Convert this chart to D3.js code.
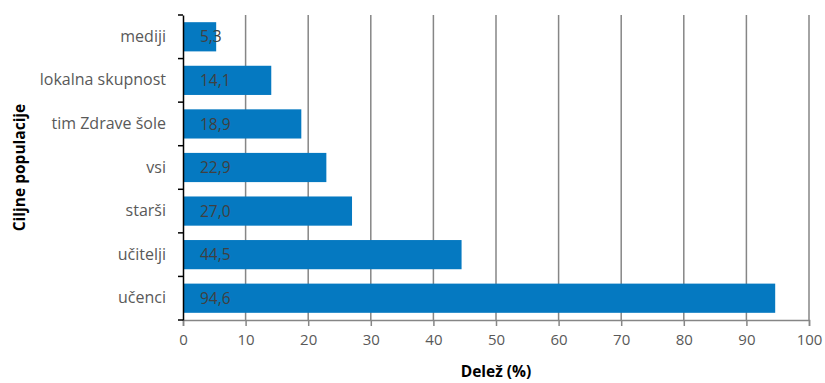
<!DOCTYPE html>
<html>
<head>
<meta charset="utf-8">
<script src="https://cdn.jsdelivr.net/npm/d3@7"></script>
<style>
  html, body { margin: 0; padding: 0; background: #fff; }
  svg { display: block; font-family: "Open Sans", "Noto Sans", sans-serif; }
</style>
</head>
<body>
<svg id="chart" width="825" height="383"></svg>
<script>
// Target populations and their shares (%)
const categories = ["mediji", "lokalna skupnost", "tim Zdrave šole", "vsi", "starši", "učitelji", "učenci"];
const values = [5.3, 14.1, 18.9, 22.9, 27.0, 44.5, 94.6];
const xTicks = [0, 10, 20, 30, 40, 50, 60, 70, 80, 90, 100];
const xTitle = "Delež (%)";
const yTitle = "Ciljne populacije";

const svg = d3.select("#chart");
const margin = { left: 183, right: 16, top: 15, bottom: 63 };
const W = 825, H = 383;
const x0 = margin.left, x1 = W - margin.right;
const y0 = margin.top, y1 = H - margin.bottom;

const x = d3.scaleLinear().domain([0, 100]).range([x0, x1]);
const y = d3.scaleBand().domain(categories).range([y0, y1]).paddingInner(0.33).paddingOuter(0.165);
const yEdges = d3.scaleLinear().domain([0, categories.length]).range([y0, y1]);

const fmt = v => d3.format(".1f")(v).replace(".", ",");

// vertical gridlines
svg.append("g").selectAll("line").data(xTicks.filter(t => t > 0)).join("line")
  .attr("x1", d => x(d)).attr("x2", d => x(d))
  .attr("y1", y0).attr("y2", y1)
  .attr("stroke", "#868686").attr("stroke-width", 1.5);

// bars
svg.append("g").selectAll("rect").data(values).join("rect")
  .attr("x", x(0))
  .attr("y", (d, i) => y(categories[i]))
  .attr("width", d => x(d) - x(0))
  .attr("height", y.bandwidth())
  .attr("fill", "#0579c1");

// value labels inside bars
svg.append("g").selectAll("text").data(values).join("text")
  .attr("x", x(0) + 17)
  .attr("y", (d, i) => y(categories[i]) + y.bandwidth() / 2)
  .attr("dy", "0.36em")
  .attr("font-size", 15.5)
  .attr("fill", "#404040")
  .text(d => fmt(d));

// x axis
const xAxis = svg.append("g").attr("transform", `translate(0,${y1})`)
  .call(d3.axisBottom(x).tickValues(xTicks).tickSize(6).tickPadding(8));
xAxis.select(".domain").attr("stroke", "#868686").attr("stroke-width", 1.5);
xAxis.selectAll(".tick line").attr("stroke", "#868686").attr("stroke-width", 1.5);
xAxis.selectAll(".tick text").attr("font-size", 15).attr("fill", "#595959")
  .attr("font-family", "\"Open Sans\", sans-serif");

// y axis
const yAxis = svg.append("g").attr("transform", `translate(${x0},0)`)
  .call(d3.axisLeft(y).tickSize(0).tickPadding(17));
yAxis.select(".domain").attr("stroke", "#000").attr("stroke-width", 1.5);
yAxis.selectAll(".tick text").attr("font-size", 16).attr("fill", "#595959")
  .attr("font-family", "\"Open Sans\", sans-serif");
// category boundary ticks
yAxis.selectAll("line.edge").data(d3.range(categories.length + 1)).join("line")
  .attr("class", "edge")
  .attr("x1", -5).attr("x2", 0)
  .attr("y1", d => yEdges(d)).attr("y2", d => yEdges(d))
  .attr("stroke", "#000").attr("stroke-width", 1.5);

// axis titles
svg.append("text")
  .attr("x", (x0 + x1) / 2).attr("y", 377)
  .attr("text-anchor", "middle")
  .attr("font-size", 15.5).attr("font-weight", "bold").attr("fill", "#000")
  .text(xTitle);

svg.append("text")
  .attr("transform", `translate(25,${(y0 + y1) / 2}) rotate(-90)`)
  .attr("text-anchor", "middle")
  .attr("font-size", 15.5).attr("font-weight", "bold").attr("fill", "#000")
  .text(yTitle);
</script>
</body>
</html>
